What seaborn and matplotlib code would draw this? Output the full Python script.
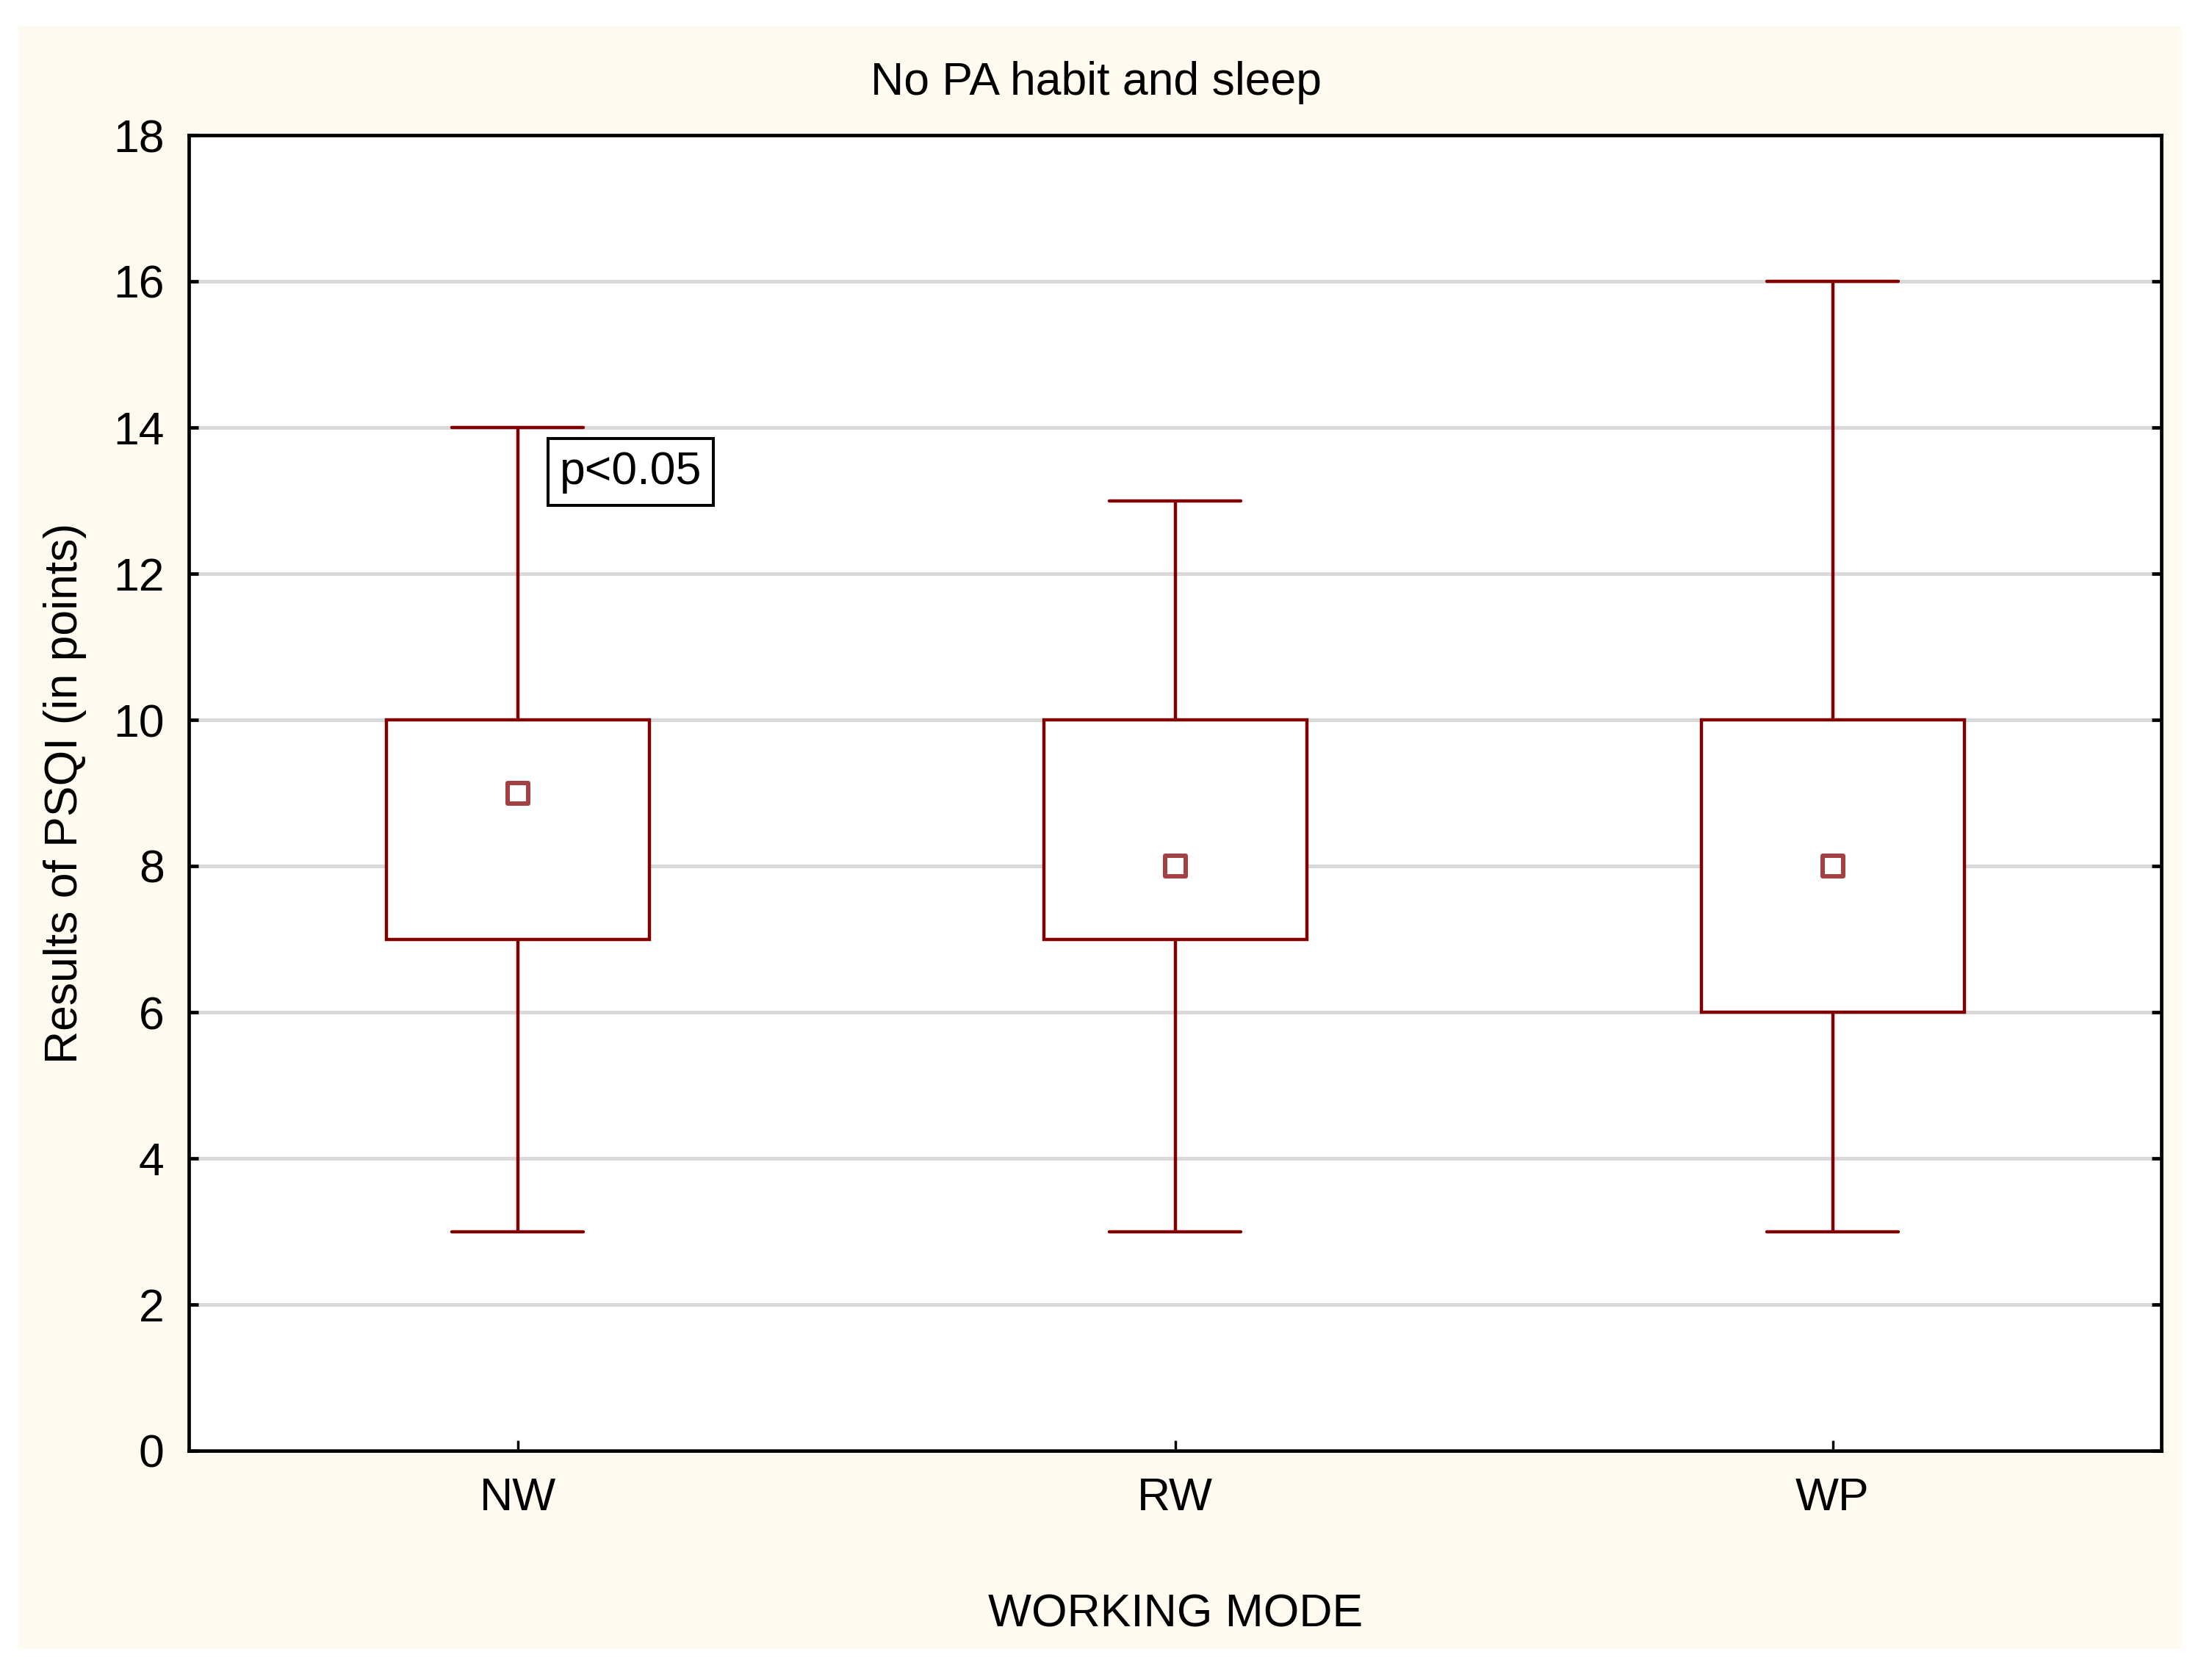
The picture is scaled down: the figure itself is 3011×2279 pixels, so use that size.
import numpy as np
import pandas as pd
import matplotlib
matplotlib.use("Agg")
import matplotlib.pyplot as plt
import seaborn as sns
from matplotlib.patches import Rectangle

# ---- data ----
categories = ["NW", "RW", "WP"]
minimum = [3, 3, 3]
q1 = [7, 7, 6]
median = [9, 8, 8]
q3 = [10, 10, 10]
maximum = [14, 13, 16]
yticks = [0, 2, 4, 6, 8, 10, 12, 14, 16, 18]

title = "No PA habit and sleep"
xlabel = "WORKING MODE"
ylabel = "Results of PSQI (in points)"
annotation = "p<0.05"

# long-form five-number summary per category
rows = []
for c, a, b, m, d, e in zip(categories, minimum, q1, median, q3, maximum):
    for v in (a, b, m, d, e):
        rows.append((c, v))
df = pd.DataFrame(rows, columns=["mode", "psqi"])

sns.set_style("white")
plt.rcParams["font.family"] = ["Liberation Sans", "DejaVu Sans"]
plt.rcParams["text.color"] = "black"
plt.rcParams["xtick.color"] = "black"
plt.rcParams["ytick.color"] = "black"

W, H = 3011, 2279
fig = plt.figure(figsize=(W / 100, H / 100), dpi=100)
fig.patch.set_facecolor("white")
bg = Rectangle((25 / W, 1 - 2245 / H), (2969 - 25) / W, (2245 - 36) / H,
               transform=fig.transFigure, facecolor="#fefaf0",
               edgecolor="none", zorder=-10)
fig.add_artist(bg)

ax = fig.add_axes([257 / W, 1 - 1975 / H, (2942 - 257) / W, (1975 - 184) / H])
ax.set_zorder(1)
ax.set_facecolor("white")

box_color = "#800000"
sns.boxplot(data=df, x="mode", y="psqi", order=categories, whis=(0, 100),
            width=0.4, color="white", saturation=1, linecolor=box_color,
            linewidth=3.2, showfliers=False,
            medianprops={"visible": False}, ax=ax, zorder=3)

sns.stripplot(x=categories, y=median, order=categories, jitter=False,
              marker="s", color="white", edgecolor="#a34042", linewidth=4.3,
              size=19.5, ax=ax, zorder=6)

ax.set_xlim(-0.5, 2.5)
ax.set_ylim(0, 18)
ax.set_yticks(yticks)
ax.set_yticklabels([str(t) for t in yticks])
ax.set_xticks(range(len(categories)))
ax.set_xticklabels(categories)

ax.yaxis.grid(True, color="#d9d9d9", linewidth=3.6)
ax.xaxis.grid(False)
ax.set_axisbelow(True)

for s in ax.spines.values():
    s.set_visible(True)
    s.set_color("black")
    s.set_linewidth(3.4)

ax.tick_params(axis="y", direction="in", length=9.5, width=3.4, left=True,
               right=True, labelsize=45, pad=24, colors="black")
ax.tick_params(axis="x", direction="in", length=10, width=2.5, bottom=True,
               top=False, labelsize=45, pad=25, colors="black")
ax.set_xlabel("")
ax.set_ylabel("")

ax.text(0.0642, 13.226, annotation, ha="left", va="baseline", fontsize=45,
        color="black", zorder=8,
        bbox=dict(boxstyle="square,pad=0.25", facecolor="white",
                  edgecolor="black", linewidth=2.9))

fig.text(1492 / W, 1 - 112 / H, title, ha="center", va="center", fontsize=45)
fig.text(1600 / W, 1 - 2198 / H, xlabel, ha="center", va="center", fontsize=45)
fig.text(89 / W, 1 - 1080 / H, ylabel, ha="center", va="center", fontsize=45,
         rotation=90)

fig.savefig("out.png", dpi=100, facecolor=fig.get_facecolor())
